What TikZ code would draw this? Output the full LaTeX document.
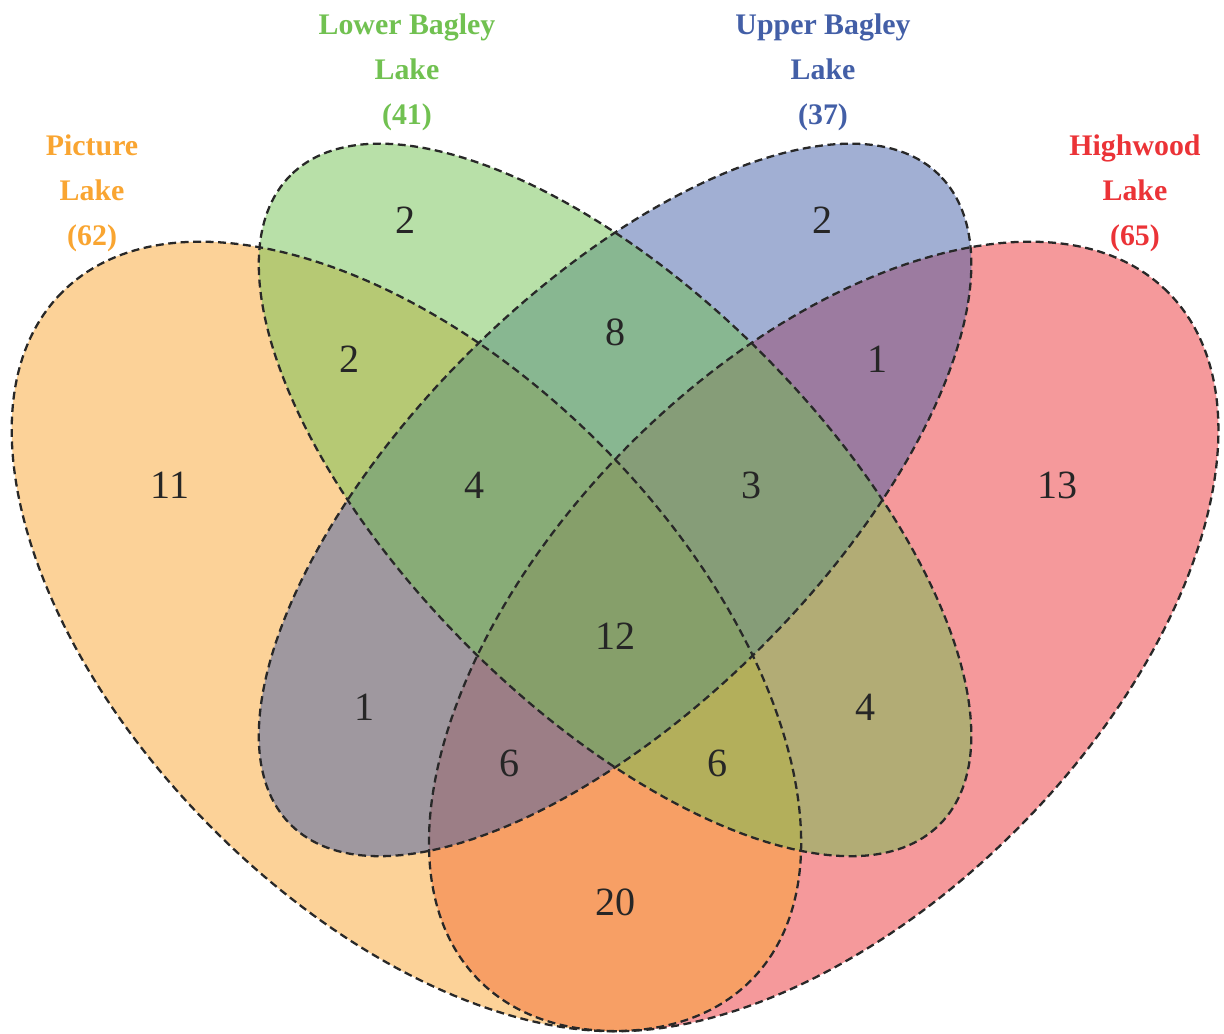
\documentclass[tikz,border=0pt]{standalone}
\usepackage{fontspec}
\setmainfont{Liberation Serif}
\usetikzlibrary{positioning}
\definecolor{pictureLake}{RGB}{249,165,49}
\definecolor{lowerBagley}{RGB}{113,193,81}
\definecolor{upperBagley}{RGB}{67,95,167}
\definecolor{highwood}{RGB}{235,51,55}
\definecolor{countGray}{RGB}{38,38,38}
\definecolor{lineGray}{RGB}{40,40,40}

\tikzset{
  setFill/.style={fill=#1, fill opacity=0.5},
  setLine/.style={draw=lineGray, line width=1.3pt, dash pattern=on 4.5pt off 2.6pt},
  count/.style={font=\fontsize{22.8}{24}\selectfont, text=countGray, inner sep=0pt},
  setLabel/.style={font=\bfseries\fontsize{17}{25.6}\selectfont, text=#1, align=center, inner sep=0pt}
}

\begin{document}
\begin{tikzpicture}[x=27.82cm, y=27.3cm]
  \useasboundingbox (0.0578,0.1788) rectangle (0.9378,0.9363);

  % color/x/y/rotation/major radius/minor radius
  \def\sets{highwood/0.65/0.47/45/0.35/0.2,
    pictureLake/0.35/0.47/135/0.35/0.2,
    upperBagley/0.5/0.57/45/0.33/0.152,
    lowerBagley/0.5/0.57/135/0.33/0.152}

  % fill the ellipses
  \foreach \c/\cx/\cy/\rot/\a/\b in \sets
    \fill[setFill=\c, rotate around={\rot:(\cx,\cy)}] (\cx,\cy) ellipse [x radius=\a, y radius=\b];

  % dashed outlines on top
  \foreach \c/\cx/\cy/\rot/\a/\b in \sets
    \draw[setLine, rotate around={\rot:(\cx,\cy)}] (\cx,\cy) ellipse [x radius=\a, y radius=\b];

  % set names
  \node[setLabel=pictureLake] (picture) at (0.124,0.795) {Picture\\Lake\\(62)};
  \node[setLabel=lowerBagley] (lower) at (0.3504,0.883) {Lower Bagley\\Lake\\(41)};
  \node[setLabel=upperBagley] (upper) at (0.6495,0.883) {Upper Bagley\\Lake\\(37)};
  \node[setLabel=highwood] (highwood) at (0.8738,0.795) {Highwood\\Lake\\(65)};

  % region counts
  \foreach \px/\py/\val [count=\ni] in {0.180/0.581/11, 0.349/0.775/2, 0.309/0.673/2,
    0.500/0.693/8, 0.649/0.775/2, 0.689/0.673/1, 0.818/0.581/13, 0.399/0.581/4,
    0.598/0.581/3, 0.500/0.470/12, 0.320/0.418/1, 0.680/0.418/4, 0.424/0.377/6,
    0.574/0.377/6, 0.500/0.275/20}
    \node[count] (n\ni) at (\px,\py) {\val};

\end{tikzpicture}
\end{document}
